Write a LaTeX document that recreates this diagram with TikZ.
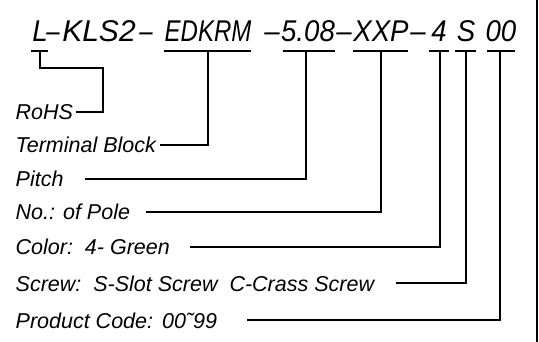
\documentclass[tikz,border=0pt]{standalone}
\usepackage{fontspec}
\setmainfont{Liberation Sans}
\newfontfamily\partfont{Liberation Sans}[FakeStretch=0.92]
\newfontfamily\narrowfont{Liberation Sans}[FakeStretch=0.8]
\newfontfamily\labelfont{Liberation Sans}

\begin{document}
\begin{tikzpicture}[x=1pt, y=-1pt, line width=1.4pt,
  every node/.style = {inner sep=0pt, anchor=base},
  part/.style = {font=\partfont\itshape\fontsize{30}{30}\selectfont},
  narrowpart/.style = {font=\narrowfont\itshape\fontsize{30}{30}\selectfont},
  lbl/.style = {anchor=base west, font=\labelfont\itshape\fontsize{21.5}{22}\selectfont}]
  \useasboundingbox (0,0) rectangle (539,342);

  % part number, piece by piece
  \node[part] (pL)     at (40,42)  {L};
  \node[narrowpart] (pd0) at (53,42) {–};
  \node[part, font=\labelfont\itshape\fontsize{30}{30}\selectfont] (pKLS) at (99,42) {KLS2};
  \node[narrowpart] (pd1) at (146,42) {–};
  \node[narrowpart] (pEDKRM) at (208,42) {EDKRM};
  \node[part] (pd2)    at (272,42) {–};
  \node[part] (ppitch) at (308,42) {5.08};
  \node[part] (pd3)    at (344,42) {–};
  \node[part] (ppole)  at (381,42) {XXP};
  \node[part] (pd4)    at (418,42) {–};
  \node[part] (pcolor) at (439,42) {4};
  \node[part] (pscrew) at (466,42) {S};
  \node[part] (pcode)  at (501,42) {00};

  % underlines and stem points
  \foreach \n/\a/\b/\s in {L/31/48/40, EDKRM/164/251/208, pitch/283/335/306,
      pole/353/408/381, color/429/449/440, screw/455/476/466, code/487/515/500} {
    \draw (\a,51) -- (\b,51);
    \coordinate (t-\n) at (\s,51);
  }

  % legend
  \node[lbl] (rohs)  at (15,120) {RoHS};
  \node[lbl] (block) at (15,153) {Terminal Block};
  \node[lbl] (pitch) at (15,187) {Pitch};
  \node[lbl] (pole)  at (15,220) {No.: of Pole};
  \node[lbl] (color) at (15,255) {Color:\ \ 4- Green};
  \node[lbl] (screw) at (15,291) {Screw:\ \ S-Slot Screw\ \ C-Crass Screw};
  \node[lbl] (code)  at (15,328) {Product Code:\ \hspace{3pt}00˜99};

  \coordinate (e-rohs)  at (76,112);
  \coordinate (e-block) at (160,145);
  \coordinate (e-pitch) at (85,179);
  \coordinate (e-pole)  at (146,212);
  \coordinate (e-color) at (190,247);
  \coordinate (e-screw) at (396,283);
  \coordinate (e-code)  at (247,320);

  \draw (t-L) |- (103,68) |- (e-rohs);
  \draw (t-EDKRM) |- (e-block);
  \draw (t-pitch) |- (e-pitch);
  \draw (t-pole) |- (e-pole);
  \draw (t-color) |- (e-color);
  \draw (t-screw) |- (e-screw);
  \draw (t-code) |- (e-code);

  % frame edge
  \draw (537,0) -- (537,342);
\end{tikzpicture}
\end{document}
